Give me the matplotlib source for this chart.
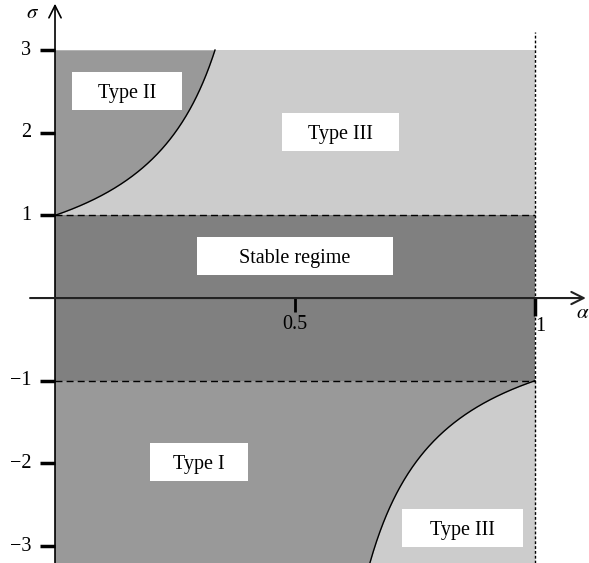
import numpy as np
import matplotlib.pyplot as plt
from matplotlib.patches import Rectangle

plt.rcParams["font.family"] = ["Liberation Serif", "DejaVu Serif"]
plt.rcParams["mathtext.fontset"] = "stix"

# Regime bounds (alpha on x, sigma on y)
alpha_max = 1.0
sigma_top = 3.0
sigma_bottom = -3.2
stable_band = [-1.0, 1.0]

# Region labels: text, alpha, sigma
region_names = ["Type II", "Type III", "Stable regime", "Type I", "Type III"]
region_alpha = [0.15, 0.595, 0.5, 0.3, 0.849]
region_sigma = [2.50, 2.01, 0.51, -1.98, -2.78]
# label box widths in alpha units
box_widths = [0.229, 0.244, 0.408, 0.204, 0.252]
box_height = 0.46

y_ticks = [-3, -2, -1, 1, 2, 3]
y_tick_labels = ["\u22123", "\u22122", "\u22121", "1", "2", "3"]
x_ticks = [0.5, 1.0]
x_tick_labels = ["0.5", "1"]

DARK = "#808080"
MID = "#999999"
LIGHT = "#cccccc"

fig = plt.figure(figsize=(5.89, 5.63), dpi=100)
ax = fig.add_axes([0, 0, 1, 1])
ax.set_xlim(-0.1146, 1.1125)
ax.set_ylim(-3.205, 3.605)
ax.axis("off")

# Upper band: Type II left of the boundary sigma = 1/(1-2a), Type III right of it
a_up = np.linspace(0, (1 - 1 / sigma_top) / 2, 200)
s_up = 1 / (1 - 2 * a_up)
ax.fill_between([0, alpha_max], stable_band[1], sigma_top, color=LIGHT, lw=0)
ax.fill_betweenx(s_up, 0, a_up, color=MID, lw=0)
ax.plot(a_up, s_up, color="black", lw=1)

# Stable band
ax.fill_between([0, alpha_max], stable_band[0], stable_band[1], color=DARK, lw=0)

# Lower band: Type I left of sigma = -1/(2a-1), Type III right of it
a_lo = np.linspace((1 - 1 / sigma_bottom) / 2, 1, 200)
s_lo = -1 / (2 * a_lo - 1)
ax.fill_between([0, alpha_max], sigma_bottom, stable_band[0], color=MID, lw=0)
ax.fill_betweenx(s_lo, a_lo, alpha_max, color=LIGHT, lw=0)
ax.plot(a_lo, s_lo, color="black", lw=1)

# Dashed band edges and dotted line at alpha = 1
for s in stable_band:
    ax.plot([0, alpha_max], [s, s], color="black", lw=1, ls=(0, (5, 3)))
ax.plot([alpha_max, alpha_max], [sigma_bottom, 3.22], color="black", lw=1,
        ls=(0, (2, 1.5)))

# Axes with open arrow heads
ax.annotate("", xy=(0, 3.56), xytext=(0, sigma_bottom),
            arrowprops=dict(arrowstyle="->", color="black", lw=1.2,
                            mutation_scale=22, shrinkA=0, shrinkB=0))
ax.annotate("", xy=(1.106, 0), xytext=(-0.052, 0),
            arrowprops=dict(arrowstyle="->", color="#222222", lw=1.5,
                            mutation_scale=22, shrinkA=0, shrinkB=0),
            zorder=3)
ax.text(-0.046, 3.44, r"$\sigma$", fontsize=15, ha="center", va="center")
ax.text(1.1, -0.19, r"$\alpha$", fontsize=15, ha="center", va="center")

# Ticks
for t, lab in zip(y_ticks, y_tick_labels):
    ax.plot([-0.031, 0], [t, t], color="black", lw=2.5, solid_capstyle="butt")
    ax.text(-0.05, t, lab, fontsize=14.5, ha="right", va="center")
ax.plot([x_ticks[0]] * 2, [0, -0.17], color="black", lw=2, solid_capstyle="butt")
ax.plot([x_ticks[1]] * 2, [0, -0.22], color="black", lw=2.5, solid_capstyle="butt")
ax.text(x_ticks[0], -0.32, x_tick_labels[0], fontsize=14.5, ha="center", va="center")
ax.text(x_ticks[1] + 0.011, -0.34, x_tick_labels[1], fontsize=14.5,
        ha="center", va="center")

# Region labels in white boxes
for name, a, s, w in zip(region_names, region_alpha, region_sigma, box_widths):
    ax.add_patch(Rectangle((a - w / 2, s - box_height / 2), w, box_height,
                           fc="white", ec="none", zorder=4))
    ax.text(a, s, name, fontsize=14.5, ha="center", va="center_baseline", zorder=5)

fig.savefig("out.png", dpi=100)
